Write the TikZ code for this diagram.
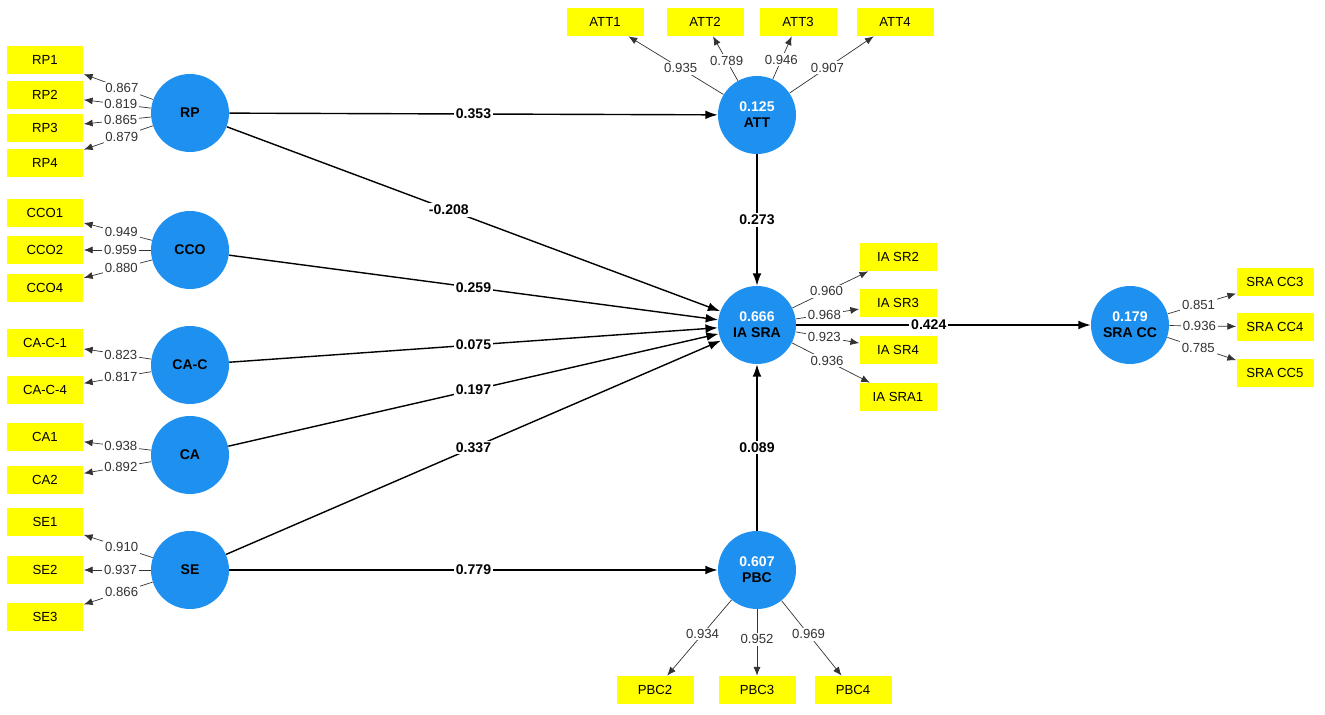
\documentclass[tikz,border=0pt]{standalone}
\usepackage{fontspec}
\setmainfont{Liberation Sans}
\usetikzlibrary{arrows.meta}
\definecolor{lvblue}{HTML}{1E90F0}
\definecolor{mvyellow}{HTML}{FFFF00}
\begin{document}
\begin{tikzpicture}[x=0.02cm, y=-0.02cm,
    latent/.style={circle, fill=lvblue, minimum size=1.56cm, inner sep=0pt, font=\fontsize{8}{9}\selectfont\bfseries, align=center},
    item/.style={rectangle, fill=mvyellow, minimum width=1.54cm, minimum height=0.56cm, inner sep=0pt, font=\fontsize{7.5}{9}\selectfont},
    load/.style={->, >={Latex[length=5pt,width=4pt]}, black!80},
    path/.style={->, >={Latex[length=7pt,width=5pt]}, thick},
    lw/.style={fill=white, inner sep=1pt, font=\fontsize{7.5}{9}\selectfont},
    pw/.style={fill=white, inner sep=1pt, font=\fontsize{8}{9}\selectfont\bfseries}]
    \useasboundingbox (0,0) rectangle (1325,715);

    % Latent variables
    \node[latent] (rp) at (190,113) {RP};
    \node[latent] (cco) at (190,250) {CCO};
    \node[latent] (cac) at (190,365) {CA-C};
    \node[latent] (ca) at (190,455) {CA};
    \node[latent] (se) at (190,570) {SE};
    \node[latent] (att) at (757,115) {\textcolor{white}{0.125}\\ATT};
    \node[latent] (iasra) at (757,325) {\textcolor{white}{0.666}\\IA SRA};
    \node[latent] (pbc) at (757,570) {\textcolor{white}{0.607}\\PBC};
    \node[latent] (sracc) at (1130,325) {\textcolor{white}{0.179}\\SRA CC};

    % Indicators
    \foreach \n/\t/\y in {rp1/RP1/60, rp2/RP2/95, rp3/RP3/128, rp4/RP4/163,
        cco1/CCO1/213, cco2/CCO2/250, cco4/CCO4/288,
        cac1/CA-C-1/343, cac4/CA-C-4/390, ca1/CA1/437, ca2/CA2/480,
        se1/SE1/522, se2/SE2/570, se3/SE3/617}
        \node[item] (\n) at (45,\y) {\t};
    \foreach \n/\t/\x in {att1/ATT1/605, att2/ATT2/705, att3/ATT3/798, att4/ATT4/895}
        \node[item] (\n) at (\x,22) {\t};
    \foreach \n/\t/\y in {ia2/IA SR2/257, ia3/IA SR3/303, ia4/IA SR4/350, ia1/IA SRA1/397}
        \node[item] (\n) at (898,\y) {\t};
    \foreach \n/\t/\y in {cc3/SRA CC3/282, cc4/SRA CC4/327, cc5/SRA CC5/373}
        \node[item] (\n) at (1275,\y) {\t};
    \foreach \n/\t/\x in {pbc2/PBC2/655, pbc3/PBC3/757, pbc4/PBC4/853}
        \node[item] (\n) at (\x,690) {\t};

    % Outer loadings
    \foreach \s/\d/\v in {rp/rp1/0.867, rp/rp2/0.819, rp/rp3/0.865, rp/rp4/0.879,
        cco/cco1/0.949, cco/cco2/0.959, cco/cco4/0.880,
        cac/cac1/0.823, cac/cac4/0.817, ca/ca1/0.938, ca/ca2/0.892,
        se/se1/0.910, se/se2/0.937, se/se3/0.866,
        att/att1/0.935, att/att2/0.789, att/att3/0.946, att/att4/0.907,
        iasra/ia2/0.960, iasra/ia3/0.968, iasra/ia4/0.923, iasra/ia1/0.936,
        sracc/cc3/0.851, sracc/cc4/0.936, sracc/cc5/0.785,
        pbc/pbc2/0.934, pbc/pbc3/0.952, pbc/pbc4/0.969}
        \draw[load] (\s) -- node[lw, pos=0.45] {\v} (\d);

    % Path coefficients
    \draw[path] (rp) -- node[pw] {0.353} (att);
    \draw[path] (rp) -- node[pw, pos=0.45] {-0.208} (iasra);
    \draw[path] (cco) -- node[pw, pos=0.5] {0.259} (iasra);
    \draw[path] (cac) -- node[pw, pos=0.5] {0.075} (iasra);
    \draw[path] (ca) -- node[pw, pos=0.5] {0.197} (iasra);
    \draw[path] (se) -- node[pw, pos=0.5] {0.337} (iasra);
    \draw[path] (se) -- node[pw] {0.779} (pbc);
    \draw[path] (att) -- node[pw] {0.273} (iasra);
    \draw[path] (pbc) -- node[pw] {0.089} (iasra);
    \draw[path] (iasra) -- node[pw, pos=0.45] {0.424} (sracc);
\end{tikzpicture}
\end{document}
